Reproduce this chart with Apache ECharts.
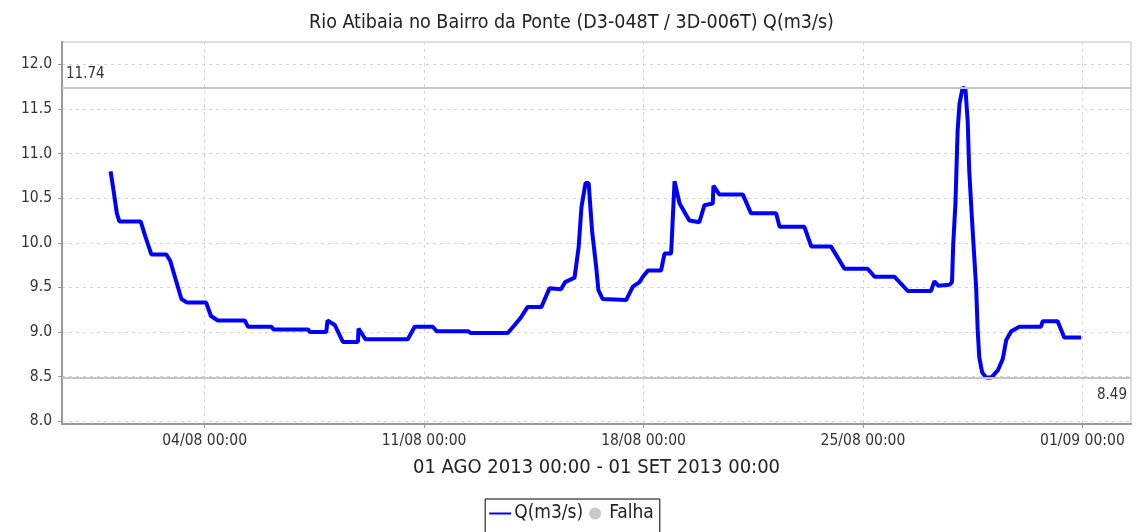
<!DOCTYPE html>
<html>
<head>
<meta charset="UTF-8">
<title>index.html</title>
<style type="text/css">
html, body { margin: 0; padding: 0; background: #fff; }
#main { width: 1143px; height: 532px; }
</style>
</head>
<body>
  <div id="main"></div>
</body>
<script type="text/javascript" src="https://cdn.jsdelivr.net/npm/echarts@6/dist/echarts.min.js"></script>
<script>
  // days since 01/08/2013 00:00 and flow Q(m3/s)
  var days = [0, 0.08, 0.2, 0.28, 0.96, 1.1, 1.3, 1.78, 1.9, 2.26, 2.44, 3.05, 3.2, 3.42, 4.28, 4.38, 5.13, 5.2,
    6.3, 6.36, 6.88, 6.92, 7.15, 7.41, 7.89, 7.91, 8.13, 9.48, 9.7, 10.28, 10.4, 11.4, 11.48, 12.67, 12.89, 13.1,
    13.3, 13.74, 14.0, 14.37, 14.5, 14.8, 14.93, 15.02, 15.15, 15.25, 15.36, 15.49, 15.56, 15.7, 16.45, 16.66,
    16.87, 16.98, 17.14, 17.56, 17.67, 17.88, 17.99, 18.15, 18.46, 18.78, 18.94, 19.21, 19.23, 19.42, 20.17,
    20.43, 21.23, 21.34, 22.13, 22.35, 22.98, 23.41, 24.15, 24.37, 25.0, 25.22, 25.43, 26.17, 26.28, 26.4,
    26.76, 26.84, 26.88, 26.95, 27.02, 27.08, 27.18, 27.27, 27.34, 27.39, 27.48, 27.61, 27.66, 27.71, 27.8,
    27.93, 28.09, 28.3, 28.46, 28.57, 28.73, 28.99, 29.68, 29.73, 30.21, 30.42, 30.96];
  var flow = [10.8, 10.62, 10.33, 10.24, 10.24, 10.08, 9.87, 9.87, 9.8, 9.37, 9.33, 9.33, 9.18, 9.13, 9.13, 9.06, 9.06, 9.03,
    9.03, 9.0, 9.0, 9.13, 9.08, 8.89, 8.89, 9.04, 8.92, 8.92, 9.06, 9.06, 9.01, 9.01, 8.99, 8.99, 9.08, 9.17,
    9.28, 9.28, 9.49, 9.48, 9.56, 9.61, 9.95, 10.4, 10.67, 10.67, 10.13, 9.73, 9.47, 9.37, 9.36, 9.51,
    9.56, 9.62, 9.69, 9.69, 9.88, 9.88, 10.69, 10.44, 10.25, 10.23, 10.42, 10.44, 10.64, 10.54, 10.54,
    10.33, 10.33, 10.18, 10.18, 9.96, 9.96, 9.71, 9.71, 9.62, 9.62, 9.54, 9.46, 9.46, 9.57, 9.52,
    9.53, 9.56, 9.99, 10.44, 11.26, 11.56, 11.74, 11.72, 11.37, 10.81, 10.25, 9.5, 9.02, 8.72, 8.55,
    8.49, 8.49, 8.57, 8.7, 8.91, 9.01, 9.06, 9.06, 9.12, 9.12, 8.94, 8.94];
  var yTicks = [8.0, 8.5, 9.0, 9.5, 10.0, 10.5, 11.0, 11.5, 12.0];
  var xTickDays = [3, 10, 17, 24, 31];
  var maxQ = 11.74, minQ = 8.49;

  var DAY = 86400000;
  var t0 = Date.UTC(2013, 7, 1);
  var points = [];
  for (var i = 0; i < days.length; i++) {
    points.push([t0 + days[i] * DAY, flow[i]]);
  }
  var xTicks = xTickDays.map(function (d) { return t0 + d * DAY; });

  function pad(n) { return (n < 10 ? '0' : '') + n; }
  var font = "'DejaVu Sans Condensed', 'DejaVu Sans'";

  var myChart = echarts.init(document.getElementById('main'));
  var option = {
    animation: false,
    textStyle: { fontFamily: font },
    title: {
      text: 'Rio Atibaia no Bairro da Ponte (D3-048T / 3D-006T) Q(m3/s)',
      left: 'center',
      top: 8,
      textStyle: { fontSize: 19.5, fontWeight: 'normal', color: '#222', fontFamily: font }
    },
    legend: {
      top: 499,
      left: 'center',
      padding: [5, 6, 12, 4],
      borderColor: '#000',
      borderWidth: 1,
      itemGap: 6,
      itemWidth: 22,
      itemHeight: 12,
      textStyle: { fontSize: 19, color: '#222', fontFamily: font, padding: [0, 0, 0, -2] },
      data: [
        { name: 'Q(m3/s)', icon: 'path://M0,0L0.01,0M0,5h22v2H0zM0,12L0.01,12' },
        { name: 'Falha', icon: 'circle', itemStyle: { color: '#bbb' } }
      ]
    },
    grid: {
      left: 62, right: 12, top: 42, bottom: 108,
      show: true, borderColor: '#bbb', borderWidth: 1
    },
    xAxis: {
      type: 'value',
      min: t0 - 1.55 * DAY,
      max: t0 + 32.55 * DAY,
      name: '01 AGO 2013 00:00 - 01 SET 2013 00:00',
      nameLocation: 'middle',
      nameGap: 34,
      nameTextStyle: { fontSize: 20, color: '#222', fontFamily: font, verticalAlign: 'top' },
      axisLine: { onZero: false, lineStyle: { color: '#999', width: 2 } },
      axisTick: { show: true, customValues: xTicks, length: 4, lineStyle: { color: '#999' } },
      axisLabel: {
        customValues: xTicks, fontSize: 15.5, color: '#333', margin: 9,
        formatter: function (v) {
          var d = new Date(v);
          return pad(d.getUTCDate()) + '/' + pad(d.getUTCMonth() + 1) + ' ' + pad(d.getUTCHours()) + ':' + pad(d.getUTCMinutes());
        }
      },
      splitLine: { show: true, lineStyle: { color: '#d4d4d4', type: [3, 4] } }
    },
    yAxis: {
      type: 'value',
      min: 7.97,
      max: 12.25,
      axisLine: { show: true, lineStyle: { color: '#999', width: 2 } },
      axisTick: { show: true, customValues: yTicks, length: 4, lineStyle: { color: '#999' } },
      axisLabel: {
        customValues: yTicks, fontSize: 15.5, color: '#333', margin: 10,
        formatter: function (v) { return v.toFixed(1); }
      },
      splitLine: { show: true, lineStyle: { color: '#d4d4d4', type: [3, 4] } }
    },
    series: [
      {
        name: 'Q(m3/s)',
        type: 'line',
        data: points,
        color: '#0000ff',
        showSymbol: false,
        lineStyle: { color: '#0000ff', width: 4 },
        markLine: {
          silent: true,
          symbol: 'none',
          lineStyle: { color: '#c4c4c4', width: 2, type: 'solid' },
          label: { fontSize: 15, color: '#333', fontFamily: font },
          data: [
            { yAxis: maxQ, label: { position: 'insideStartTop', formatter: maxQ.toFixed(2), distance: [4, 6] } },
            { yAxis: minQ, label: { position: 'insideEndBottom', formatter: minQ.toFixed(2), distance: [4, 10] } }
          ]
        }
      },
      {
        name: 'Falha',
        type: 'scatter',
        data: [],
        color: '#bbb'
      }
    ]
  };
  myChart.setOption(option);
</script>
</html>
